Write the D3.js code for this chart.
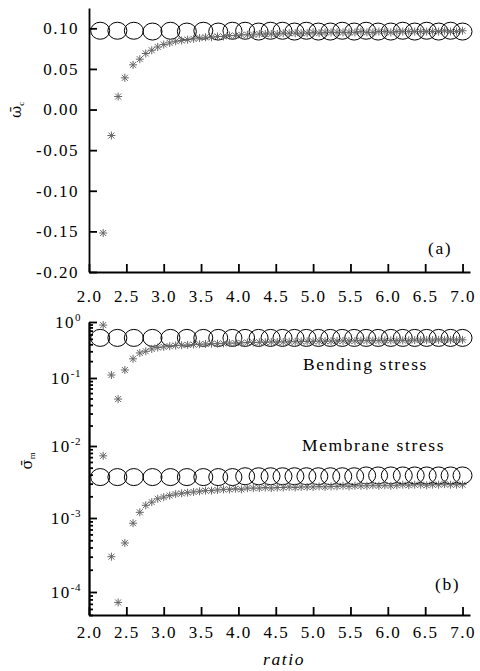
<!DOCTYPE html>
<html>
<head>
<meta charset="utf-8">
<script src="https://cdn.jsdelivr.net/npm/d3@7"></script>
<style>
    html, body { margin: 0; padding: 0; background: #fff; }
    svg { display: block; font-family: "Liberation Serif", "Times New Roman", serif; }
    .axis path, .axis line { stroke: #000; stroke-width: 1.8; }
    .axis text { font-size: 17px; letter-spacing: 1.5px; fill: #000; font-family: "Liberation Serif", serif; }
    .label { font-size: 17.5px; letter-spacing: 1.6px; fill: #000; font-family: "Liberation Serif", serif; }
    .greek { font-family: "DejaVu Serif", serif; font-size: 15px; letter-spacing: 0; }
</style>
</head>
<body>
<div id="chart"></div>
<script>
// ===========================
// Deflection / stress vs ratio
// two stacked panels, circles vs asterisks
// ===========================

// circle series (one x grid for all three)
const ratioCircle = [2.15, 2.38, 2.60, 2.85, 3.09, 3.31, 3.53, 3.73, 3.92, 4.09, 4.27, 4.43, 4.59, 4.75,
    4.91, 5.07, 5.23, 5.39, 5.55, 5.71, 5.87, 6.04, 6.20, 6.36, 6.52, 6.68, 6.84, 7.00];
const omegaCircle = [0.097, 0.097, 0.097, 0.096, 0.097, 0.096, 0.097, 0.096, 0.097, 0.097, 0.096, 0.097, 0.097, 0.096,
    0.097, 0.096, 0.096, 0.097, 0.096, 0.097, 0.096, 0.096, 0.097, 0.096, 0.097, 0.096, 0.097, 0.096];
const bendCircle = [0.52, 0.52, 0.52, 0.52, 0.52, 0.52, 0.52, 0.52, 0.52, 0.52, 0.52, 0.52, 0.52, 0.52,
    0.52, 0.52, 0.52, 0.52, 0.52, 0.52, 0.52, 0.52, 0.52, 0.52, 0.52, 0.52, 0.52, 0.52];
const membCircle = [0.0037, 0.0037, 0.0037, 0.0037, 0.0037, 0.0037, 0.0037, 0.0037, 0.0037, 0.0038, 0.0038, 0.0038, 0.0038, 0.0038,
    0.0038, 0.0038, 0.0038, 0.0038, 0.0038, 0.0039, 0.0039, 0.0039, 0.0039, 0.0039, 0.0039, 0.0039, 0.0039, 0.0039];

// asterisk series
const ratioStar = [2.19, 2.30, 2.39, 2.48, 2.59, 2.68,
    2.76, 2.84, 2.92, 3.00, 3.08, 3.16, 3.24, 3.32, 3.40, 3.48,
    3.56, 3.64, 3.72, 3.80, 3.88, 3.96, 4.04, 4.12, 4.20, 4.28,
    4.36, 4.44, 4.52, 4.60, 4.68, 4.76, 4.84, 4.92, 5.00, 5.08,
    5.16, 5.24, 5.32, 5.40, 5.48, 5.56, 5.64, 5.72, 5.80, 5.88,
    5.96, 6.04, 6.12, 6.20, 6.28, 6.36, 6.44, 6.52, 6.60, 6.68, 6.76, 6.84, 6.92, 7.00];
const omegaStar = [-0.152, -0.032, 0.016, 0.039, 0.055, 0.062,
    0.069, 0.073, 0.077, 0.080, 0.082, 0.084, 0.085, 0.086, 0.087, 0.088,
    0.089, 0.089, 0.090, 0.090, 0.091, 0.091, 0.092, 0.092, 0.092, 0.093,
    0.093, 0.093, 0.093, 0.094, 0.094, 0.094, 0.094, 0.094, 0.095, 0.094,
    0.095, 0.095, 0.095, 0.095, 0.095, 0.095, 0.096, 0.095, 0.095, 0.096,
    0.096, 0.095, 0.096, 0.096, 0.096, 0.096, 0.096, 0.096, 0.096, 0.096, 0.097, 0.096, 0.096, 0.097];
const bendStar = [0.88, 0.113, 0.049, 0.139, 0.22, 0.28,
    0.30, 0.33, 0.35, 0.36, 0.37, 0.38, 0.385, 0.39, 0.395, 0.40,
    0.405, 0.41, 0.41, 0.415, 0.42, 0.42, 0.425, 0.43, 0.43, 0.435,
    0.435, 0.44, 0.44, 0.44, 0.445, 0.445, 0.45, 0.45, 0.45, 0.455,
    0.455, 0.455, 0.46, 0.46, 0.46, 0.46, 0.465, 0.465, 0.465, 0.465,
    0.47, 0.47, 0.47, 0.47, 0.47, 0.475, 0.475, 0.475, 0.475, 0.48, 0.48, 0.48, 0.48, 0.48];
const membStar = [0.0073, 0.00030, 0.000073, 0.00046, 0.00085, 0.0012,
    0.0015, 0.00166, 0.00185, 0.00195, 0.00205, 0.00215, 0.0022, 0.00225, 0.0023, 0.00235,
    0.0024, 0.0024, 0.00245, 0.0025, 0.0025, 0.00255, 0.0025, 0.0026, 0.0026, 0.0026,
    0.00265, 0.0026, 0.00265, 0.00265, 0.0027, 0.00265, 0.0027, 0.0027, 0.0027, 0.00275,
    0.0027, 0.00275, 0.00275, 0.0028, 0.00275, 0.0028, 0.0028, 0.0028, 0.00285, 0.0028,
    0.00285, 0.0028, 0.00285, 0.0029, 0.00285, 0.0029, 0.0029, 0.00285, 0.0029, 0.0029, 0.00295, 0.0029, 0.0029, 0.0029];

// tick labels
const ratioTicks = [2.0, 2.5, 3.0, 3.5, 4.0, 4.5, 5.0, 5.5, 6.0, 6.5, 7.0];
const omegaTicks = [-0.20, -0.15, -0.10, -0.05, 0.00, 0.05, 0.10];
const sigmaTicks = [1e-4, 1e-3, 1e-2, 1e-1, 1];

const W = 480, H = 671;
const left = 89, right = 470;
const panelA = { top: 8, bottom: 272 };
// decade positions of the (slightly uneven) log axis in panel b
const panelB = { domain: [5e-5, 1e-4, 1e-3, 1e-2, 1e-1, 1], range: [615, 592, 518, 446, 378, 322] };

const svg = d3.select('#chart')
    .append('svg')
    .attr('width', W)
    .attr('height', H);

const x = d3.scaleLinear().domain([2, 7.1]).range([left, right]);
const yA = d3.scaleLinear().domain([-0.2, 0.125]).range([panelA.bottom, panelA.top]);
const yB = d3.scaleLog().domain(panelB.domain).range(panelB.range);

const starPath = 'M-4,0H4M0,-4V4M-3,-3L3,3M-3,3L3,-3';

function drawSeries(xs, ys, yScale, kind) {
    const pts = xs.map((v, i) => ({ x: v, y: ys[i] }));
    if (kind === 'circle') {
        svg.append('g').selectAll('ellipse')
            .data(pts)
            .join('ellipse')
            .attr('cx', d => x(d.x))
            .attr('cy', d => yScale(d.y))
            .attr('rx', 9.5)
            .attr('ry', 8.5)
            .attr('fill', 'none')
            .attr('stroke', '#000')
            .attr('stroke-width', 1);
    } else {
        svg.append('g').selectAll('path')
            .data(pts)
            .join('path')
            .attr('transform', d => `translate(${x(d.x)},${yScale(d.y)})`)
            .attr('d', starPath)
            .attr('fill', 'none')
            .attr('stroke', '#666')
            .attr('stroke-width', 1);
    }
}

// rotated y label: barred greek letter + subscript
function yLabel(tx, ty, letter, sub) {
    const t = svg.append('text')
        .attr('class', 'label')
        .attr('text-anchor', 'middle')
        .attr('transform', `translate(${tx},${ty}) rotate(-90)`);
    t.append('tspan').attr('class', 'greek').text(letter + '\u0304');
    t.append('tspan').attr('dy', 3).style('font-size', '9px').text(sub);
}

// ---------- panel (a) ----------
svg.append('g')
    .attr('class', 'axis')
    .attr('transform', `translate(0,${panelA.bottom})`)
    .call(d3.axisBottom(x).tickValues(ratioTicks).tickSize(-8).tickSizeOuter(0)
        .tickPadding(18).tickFormat(d => d.toFixed(1)));

svg.append('g')
    .attr('class', 'axis')
    .attr('transform', `translate(${left},0)`)
    .call(d3.axisLeft(yA).tickValues(omegaTicks).tickSize(-8).tickSizeOuter(0)
        .tickPadding(10).tickFormat(d => d.toFixed(2)));

drawSeries(ratioCircle, omegaCircle, yA, 'circle');
drawSeries(ratioStar, omegaStar, yA, 'star');

yLabel(21, 109, '\u03C9', 'c');
svg.append('text').attr('class', 'label').attr('x', 428).attr('y', 254).text('(a)');

// ---------- panel (b) ----------
svg.append('g')
    .attr('class', 'axis')
    .attr('transform', `translate(0,${panelB.range[0]})`)
    .call(d3.axisBottom(x).tickValues(ratioTicks).tickSize(-8).tickSizeOuter(0)
        .tickPadding(11).tickFormat(d => d.toFixed(1)));

const minor = [];
[1e-5, 1e-4, 1e-3, 1e-2, 1e-1].forEach(p => {
    d3.range(2, 10).forEach(m => {
        const v = p * m;
        if (v >= panelB.domain[0] && v < 1) minor.push(v);
    });
});

svg.append('g')
    .attr('class', 'axis')
    .attr('transform', `translate(${left},0)`)
    .call(d3.axisLeft(yB).tickValues(minor).tickSize(-4).tickSizeOuter(0).tickFormat(''));

const yAxisB = svg.append('g')
    .attr('class', 'axis')
    .attr('transform', `translate(${left},0)`)
    .call(d3.axisLeft(yB).tickValues(sigmaTicks).tickSize(-8).tickSizeOuter(0)
        .tickPadding(8).tickFormat(''));

yAxisB.selectAll('.tick text').each(function(d) {
    const t = d3.select(this);
    t.append('tspan').text('10');
    t.append('tspan').attr('dy', '-0.6em').style('font-size', '11px').style('letter-spacing', '0.5px')
        .text(Math.round(Math.log10(d)));
});

drawSeries(ratioCircle, bendCircle, yB, 'circle');
drawSeries(ratioCircle, membCircle, yB, 'circle');
drawSeries(ratioStar, bendStar, yB, 'star');
drawSeries(ratioStar, membStar, yB, 'star');

yLabel(32, 460, '\u03C3', 'm');

svg.append('text').attr('class', 'label').attr('x', 303).attr('y', 370).text('Bending stress');
svg.append('text').attr('class', 'label').attr('x', 302).attr('y', 451).text('Membrane stress');
svg.append('text').attr('class', 'label').attr('x', 435).attr('y', 590).text('(b)');

svg.append('text')
    .attr('class', 'label')
    .attr('x', 284)
    .attr('y', 665)
    .attr('text-anchor', 'middle')
    .style('font-style', 'italic')
    .text('ratio');
</script>
</body>
</html>
